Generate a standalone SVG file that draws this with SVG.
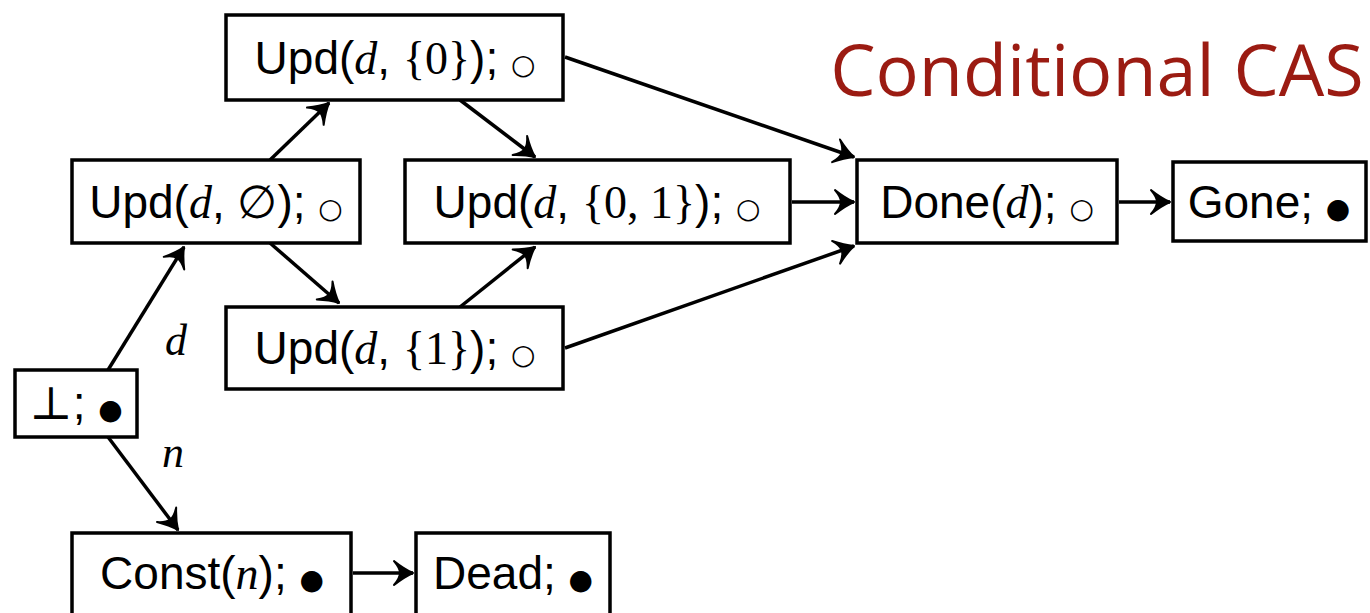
<svg xmlns="http://www.w3.org/2000/svg" width="1370" height="613" viewBox="0 0 1370 613">
<defs>
<style>
.box{fill:#fff;stroke:#000;stroke-width:3.5}
.t{font-family:"Liberation Sans","DejaVu Sans",sans-serif;font-size:46px;fill:#000;text-anchor:middle}
.m{font-family:"Liberation Serif","DejaVu Serif",serif;font-style:italic}
.r{font-family:"Liberation Serif","DejaVu Serif",serif}
.s{font-family:"DejaVu Sans",sans-serif;font-size:28px}
.lbl{font-family:"Liberation Serif","DejaVu Serif",serif;font-style:italic;font-size:44px;fill:#000}
.c{fill:none;stroke:#000;stroke-width:3.5}
.title{font-family:"Open Sans","Noto Sans",sans-serif;font-size:72px;fill:#9b1b12}
</style>
<marker id="ah" viewBox="-22 -14 24 28" refX="0" refY="0" markerWidth="24" markerHeight="28" markerUnits="userSpaceOnUse" orient="auto">
<path d="M0,0 Q-9,-4 -19,-12 Q-13,-5 -13,0 Q-13,5 -19,12 Q-9,4 0,0 Z" fill="#000" stroke="#000" stroke-width="2" stroke-linejoin="round"/>
</marker>
</defs>
<rect width="1370" height="613" fill="#fff"/>
<text class="title" x="1097" y="96" text-anchor="middle">Conditional CAS</text>
<g id="connectors">
<path class="c" marker-end="url(#ah)" d="M108,370 L184,247"/>
<path class="c" marker-end="url(#ah)" d="M108,437 L178,530"/>
<path class="c" marker-end="url(#ah)" d="M270,160 L329,103"/>
<path class="c" marker-end="url(#ah)" d="M270,243 L339,303"/>
<path class="c" marker-end="url(#ah)" d="M460,100 L535,157"/>
<path class="c" marker-end="url(#ah)" d="M460,307 L535,247"/>
<path class="c" marker-end="url(#ah)" d="M565,57 L854,157"/>
<path class="c" marker-end="url(#ah)" d="M792,202 L854,202"/>
<path class="c" marker-end="url(#ah)" d="M565,348 L854,246"/>
<path class="c" marker-end="url(#ah)" d="M1119,202 L1170,202"/>
<path class="c" marker-end="url(#ah)" d="M353,573 L413,573"/>
<text class="lbl" x="165" y="355">d</text>
<text class="lbl" x="162" y="467">n</text>
</g>
<g id="n-upd0">
<rect class="box" x="226" y="15" width="337" height="85"/>
<text class="t" x="395" y="74">Upd(<tspan class="m">d</tspan>, <tspan class="r">{0}</tspan>); <tspan class="s">○</tspan></text>
</g>
<g id="n-updempty">
<rect class="box" x="72" y="160" width="288" height="83"/>
<text class="t" x="216" y="218">Upd(<tspan class="m">d</tspan>, <tspan class="r">∅</tspan>); <tspan class="s">○</tspan></text>
</g>
<g id="n-upd01">
<rect class="box" x="405" y="160" width="385" height="83"/>
<text class="t" x="597" y="218">Upd(<tspan class="m">d</tspan>, <tspan class="r">{0, 1}</tspan>); <tspan class="s">○</tspan></text>
</g>
<g id="n-upd1">
<rect class="box" x="226" y="307" width="337" height="82"/>
<text class="t" x="395" y="364">Upd(<tspan class="m">d</tspan>, <tspan class="r">{1}</tspan>); <tspan class="s">○</tspan></text>
</g>
<g id="n-bot">
<rect class="box" x="15" y="370" width="122" height="67"/>
<text class="t" x="76" y="419"><tspan class="r">⊥</tspan>; <tspan class="s">●</tspan></text>
</g>
<g id="n-const">
<rect class="box" x="72" y="533" width="279" height="90"/>
<text class="t" x="212" y="589">Const(<tspan class="m">n</tspan>); <tspan class="s">●</tspan></text>
</g>
<g id="n-dead">
<rect class="box" x="416" y="533" width="194" height="90"/>
<text class="t" x="513" y="589">Dead; <tspan class="s">●</tspan></text>
</g>
<g id="n-done">
<rect class="box" x="857" y="160" width="260" height="83"/>
<text class="t" x="987" y="218">Done(<tspan class="m">d</tspan>); <tspan class="s">○</tspan></text>
</g>
<g id="n-gone">
<rect class="box" x="1173" y="162" width="193" height="79"/>
<text class="t" x="1269" y="218">Gone; <tspan class="s">●</tspan></text>
</g>
</svg>
